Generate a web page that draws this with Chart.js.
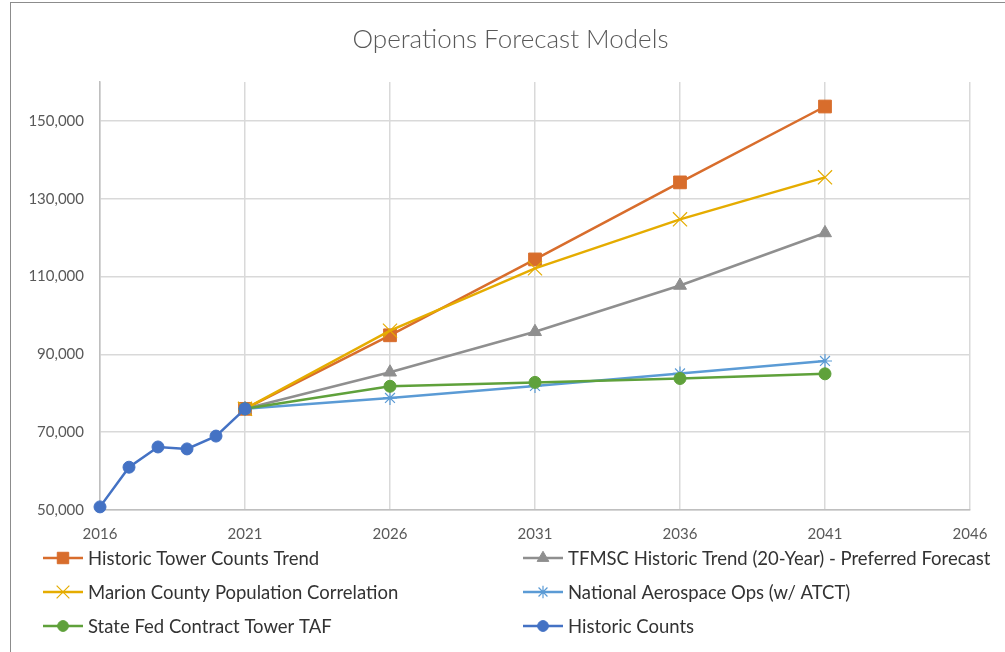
<!DOCTYPE html>
<html>
<head>
<meta charset="utf-8">
<script src="https://cdn.jsdelivr.net/npm/chart.js@4/dist/chart.umd.min.js"></script>
<style>
  body { margin: 0; background: #fff; overflow: hidden; }
  #wrap { position: absolute; left: 10px; top: 2px; border-top: 1px solid #8c8c8c; border-left: 1px solid #8c8c8c; }
</style>
</head>
<body>
<div id="wrap"><canvas id="grafica" width="999" height="660"></canvas></div>
<script>
// values
const historicYears = [2016, 2017, 2018, 2019, 2020, 2021];
const historicCounts = [50800, 61000, 66200, 65700, 69000, 76000];

const forecastYears = [2021, 2026, 2031, 2036, 2041];
const towerTrend = [76000, 94900, 114400, 134200, 153700];
const tfmscTrend = [76000, 85400, 95800, 107700, 121200];
const marionCounty = [76000, 96100, 112100, 124700, 135500];
const nationalAerospace = [76000, 78800, 81900, 85100, 88300];
const stateFedTaf = [76000, 81800, 82800, 83800, 85000];

const yTicks = [50000, 70000, 90000, 110000, 130000, 150000];
const xTicks = [2016, 2021, 2026, 2031, 2036, 2041, 2046];

const titulo = "Operations Forecast Models";

function puntos(xs, ys) {
    return xs.map((x, i) => ({ x: x, y: ys[i] }));
}

function serie(label, xs, ys, color, style, radius, bw, order) {
    return {
        label: label,
        data: puntos(xs, ys),
        borderColor: color,
        backgroundColor: color,
        borderWidth: 2.5,
        pointStyle: style,
        pointRadius: radius,
        pointBorderWidth: bw,
        pointBorderColor: color,
        pointBackgroundColor: color,
        clip: false,
        order: order
    };
}

// title centred on the whole canvas, legend in two columns like the original
const leyenda = {
    id: "leyenda",
    afterDraw(chart) {
        const ctx = chart.ctx;
        const cols = [32, 512];
        const rows = [555, 589, 623];
        ctx.save();
        ctx.fillStyle = "#595959";
        ctx.font = "300 26px Lato";
        ctx.textAlign = "center";
        ctx.textBaseline = "middle";
        ctx.fillText(titulo, chart.width / 2, 37);
        ctx.textAlign = "left";
        chart.data.datasets.forEach((ds, i) => {
            const x = cols[i % 2];
            const y = rows[Math.floor(i / 2)];
            ctx.strokeStyle = ds.borderColor;
            ctx.fillStyle = ds.borderColor;
            ctx.lineWidth = 2.5;
            ctx.beginPath();
            ctx.moveTo(x, y);
            ctx.lineTo(x + 40, y);
            ctx.stroke();
            ctx.lineWidth = ds.pointBorderWidth;
            Chart.helpers.drawPoint(ctx, {
                pointStyle: ds.pointStyle,
                radius: ds.pointRadius * 0.9,
                borderWidth: ds.pointBorderWidth,
                rotation: 0
            }, x + 20, y);
            ctx.fillStyle = "#333333";
            ctx.font = "18.5px Lato";
            ctx.fillText(ds.label, x + 45, y + 1);
        });
        ctx.restore();
    }
};

let ctx = document.getElementById("grafica").getContext("2d");

let grafica = new Chart(ctx, {
    type: "line",
    data: {
        datasets: [
            serie("Historic Tower Counts Trend", forecastYears, towerTrend, "#D86D2C", "rect", 9, 1, 6),
            serie("TFMSC Historic Trend (20-Year) - Preferred Forecast", forecastYears, tfmscTrend, "#8F8F8F", "triangle", 7.5, 1, 5),
            serie("Marion County Population Correlation", forecastYears, marionCounty, "#E5AC00", "crossRot", 10, 1.2, 4),
            serie("National Aerospace Ops (w/ ATCT)", forecastYears, nationalAerospace, "#5B9BD5", "star", 7, 1.2, 3),
            serie("State Fed Contract Tower TAF", forecastYears, stateFedTaf, "#5FA13B", "circle", 6, 1, 2),
            serie("Historic Counts", historicYears, historicCounts, "#4472C4", "circle", 6, 1, 0)
        ]
    },
    options: {
        responsive: false,
        animation: false,
        layout: { padding: { left: 0, right: 40, top: 79, bottom: 0 } },
        plugins: {
            legend: { display: false },
            tooltip: { enabled: false },
            title: { display: false }
        },
        scales: {
            x: {
                type: "linear",
                min: 2016,
                max: 2046,
                afterFit(scale) { scale.height = 153; },
                afterBuildTicks(scale) { scale.ticks = xTicks.map(v => ({ value: v })); },
                ticks: {
                    padding: 15,
                    color: "#595959",
                    font: { family: "Lato", size: 15 },
                    maxRotation: 0,
                    callback: v => String(v)
                },
                grid: { color: "#D9D9D9", lineWidth: 1.5, drawTicks: false },
                border: { color: "#BFBFBF", width: 1.5 }
            },
            y: {
                min: 50000,
                max: 160000,
                afterFit(scale) { scale.width = 89; },
                afterBuildTicks(scale) { scale.ticks = yTicks.map(v => ({ value: v })); },
                ticks: {
                    padding: 16,
                    color: "#595959",
                    font: { family: "Lato", size: 15 },
                    callback: v => v.toLocaleString("en-US")
                },
                grid: { color: "#D9D9D9", lineWidth: 1.5, drawTicks: false },
                border: { color: "#BFBFBF", width: 1.5 }
            }
        }
    },
    plugins: [leyenda]
});
</script>
</body>
</html>
